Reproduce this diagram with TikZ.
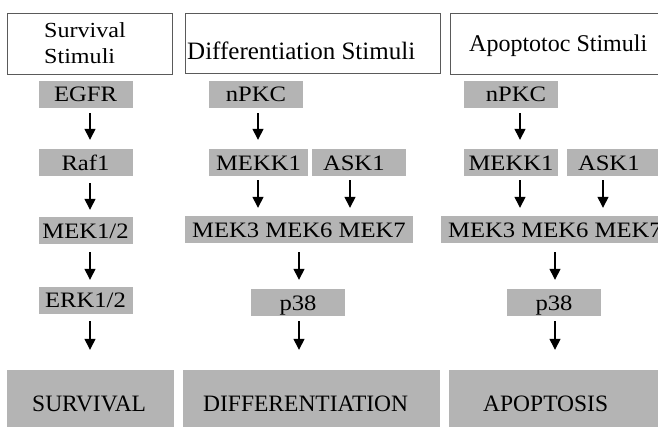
\documentclass[tikz,border=0pt]{standalone}
\usepackage{fontspec}
\setmainfont{Liberation Serif}
\newfontfamily\widefont[FakeStretch=1.12]{Liberation Serif}
\usetikzlibrary{arrows.meta}
\definecolor{boxgray}{RGB}{180,180,180}
\definecolor{framegray}{RGB}{90,90,90}
\tikzset{
  gbox/.style={fill=boxgray, draw=none, inner sep=0pt, minimum width=94pt, minimum height=27pt,
    font=\widefont\fontsize{22}{24}\selectfont, text height=15pt, text depth=0pt},
  askbox/.style={gbox, text width=72pt, inner xsep=11pt, align=left},
  bigbox/.style={fill=boxgray, draw=none, inner sep=0pt},
  stimbox/.style={draw=framegray, line width=0.8pt, inner sep=0pt},
  biglabel/.style={anchor=base west, inner sep=0pt, font=\fontsize{23.5}{26}\selectfont},
  arr/.style={line width=1.4pt, -{Triangle[width=11pt,length=11pt]}}
}
\begin{document}
\begin{tikzpicture}[x=1pt,y=-1pt]
\clip (0,0) rectangle (658,427);
\fill[white] (0,0) rectangle (658,427);

% stimuli frames
\node[stimbox, minimum width=165pt, minimum height=61pt] (sstim) at (89.5,43.5) {};
\node[stimbox, minimum width=255pt, minimum height=60.5pt] (dstim) at (312.5,43.25) {};
\node[stimbox, minimum width=220pt, minimum height=61pt] (astim) at (560,43.5) {};
\node[anchor=west, inner sep=0pt, align=left, font=\widefont\fontsize{21.5}{26}\selectfont] (stxt) at (44,42.7) {Survival\\Stimuli};
\node[anchor=base west, inner sep=0pt, font=\fontsize{25}{28}\selectfont] (dtxt) at (187,60) {Differentiation Stimuli};
\node[anchor=base west, inner sep=0pt, font=\fontsize{24}{27}\selectfont] (atxt) at (469,52) {Apoptotoc Stimuli};

% column 1
\node[gbox] (egfr) at (85.5,94.5) {EGFR};
\node[gbox] (raf) at (85.5,163) {Raf1};
\node[gbox] (mek12) at (85.5,231) {MEK1/2};
\node[gbox] (erk) at (85.5,300.5) {ERK1/2};
\node[bigbox, minimum width=167pt, minimum height=60pt] (surv) at (90.5,400) {};
\node[biglabel] (survtxt) at (32,411.7) {SURVIVAL};

\draw[arr] ([xshift=4.5pt,yshift=-5pt]egfr.south) -- ([xshift=4.5pt,yshift=9.5pt]raf.north);
\draw[arr] ([xshift=4.5pt,yshift=-6.5pt]raf.south) -- ([xshift=4.5pt,yshift=7.5pt]mek12.north);
\draw[arr] ([xshift=4.5pt,yshift=-7.5pt]mek12.south) -- ([xshift=4.5pt,yshift=7pt]erk.north);
\draw[arr] ([xshift=4.5pt,yshift=-7pt]erk.south) -- ([xshift=-0.5pt,yshift=20pt]surv.north);

% column 2
\node[gbox] (npkc) at (256,94.5) {nPKC};
\node[gbox, minimum width=99pt] (mekk) at (258.5,163) {MEKK1};
\node[askbox] (ask) at (359,163) {ASK1};
\node[gbox, minimum width=228pt] (mekrow) at (299,230) {MEK3 MEK6 MEK7};
\node[gbox] (p38) at (298,303) {p38};
\node[bigbox, minimum width=257pt, minimum height=60pt] (diff) at (311.5,400) {};
\node[biglabel] (difftxt) at (203,411.7) {DIFFERENTIATION};

\draw[arr] ([xshift=2pt,yshift=-5pt]npkc.south) -- ([xshift=-0.5pt,yshift=9.5pt]mekk.north);
\draw[arr] ([xshift=-0.5pt,yshift=-3.5pt]mekk.south) -- ([xshift=-41pt,yshift=8.5pt]mekrow.north);
\draw[arr] ([xshift=-9pt,yshift=-3.5pt]ask.south) -- ([xshift=51pt,yshift=8.5pt]mekrow.north);
\draw[arr] ([xshift=0pt,yshift=-8.5pt]mekrow.south) -- ([xshift=1pt,yshift=9.5pt]p38.north);
\draw[arr] ([xshift=1pt,yshift=-4.5pt]p38.south) -- ([xshift=-12.5pt,yshift=20pt]diff.north);

% column 3
\node[gbox] (npkcc) at (511,94.5) {\hspace*{10pt}nPKC};
\node[gbox] (mekkc) at (511,163) {MEKK1};
\node[askbox] (askc) at (614,163) {ASK1};
\node[gbox, minimum width=228pt] (mekrowc) at (555,230) {MEK3 MEK6 MEK7};
\node[gbox] (p38c) at (554,303) {p38};
\node[bigbox, minimum width=221pt, minimum height=60pt] (apop) at (559.5,400) {};
\node[biglabel] (apoptxt) at (483,411.7) {APOPTOSIS};

\draw[arr] ([xshift=9pt,yshift=-5pt]npkcc.south) -- ([xshift=9pt,yshift=9.5pt]mekkc.north);
\draw[arr] ([xshift=9pt,yshift=-3.5pt]mekkc.south) -- ([xshift=-35pt,yshift=8.5pt]mekrowc.north);
\draw[arr] ([xshift=-11pt,yshift=-3.5pt]askc.south) -- ([xshift=48pt,yshift=8.5pt]mekrowc.north);
\draw[arr] ([xshift=0pt,yshift=-8.5pt]mekrowc.south) -- ([xshift=1pt,yshift=9.5pt]p38c.north);
\draw[arr] ([xshift=1pt,yshift=-4.5pt]p38c.south) -- ([xshift=-4.5pt,yshift=20pt]apop.north);
\end{tikzpicture}
\end{document}
